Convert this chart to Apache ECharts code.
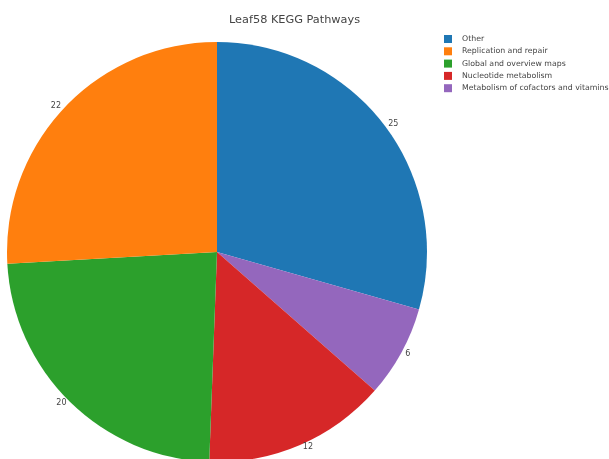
<!DOCTYPE html>
<html>
<head>
<meta charset="utf-8">
<script src="https://cdn.jsdelivr.net/npm/echarts@6/dist/echarts.min.js"></script>
<style>
  html, body { margin: 0; padding: 0; background: #fff; }
  #chart { width: 609px; height: 459px; }
</style>
</head>
<body>
<div id="chart"></div>
<script>
// Legend order of the pathway groups
const legendOrder = ['Other', 'Replication and repair', 'Global and overview maps', 'Nucleotide metabolism', 'Metabolism of cofactors and vitamins'];
// Slices, clockwise from 12 o'clock (sorted by value, largest first)
const categories = ['Other', 'Metabolism of cofactors and vitamins', 'Nucleotide metabolism', 'Global and overview maps', 'Replication and repair'];
const values = [25, 6, 12, 20, 22];
const colors = {
  'Other': '#1f77b4',
  'Replication and repair': '#ff7f0e',
  'Global and overview maps': '#2ca02c',
  'Nucleotide metabolism': '#d62728',
  'Metabolism of cofactors and vitamins': '#9467bd'
};

const chart = echarts.init(document.getElementById('chart'), null, { renderer: 'canvas' });
const font = '"DejaVu Sans", Verdana, sans-serif';

chart.setOption({
  animation: false,
  backgroundColor: '#ffffff',
  title: {
    text: 'Leaf58 KEGG Pathways',
    left: 224,
    top: 10,
    textStyle: { fontFamily: font, fontSize: 11.3, fontWeight: 'normal', color: '#444' }
  },
  legend: {
    orient: 'vertical',
    left: 444,
    top: 35,
    data: legendOrder,
    icon: 'rect',
    itemWidth: 8,
    itemHeight: 8,
    itemGap: 4.3,
    padding: 0,
    selectedMode: false,
    textStyle: { fontFamily: font, fontSize: 7.8, lineHeight: 8, color: '#444', padding: [0, 0, 0, 5] }
  },
  series: [{
    type: 'pie',
    center: [217, 252],
    radius: 210,
    startAngle: 90,
    clockwise: true,
    avoidLabelOverlap: false,
    itemStyle: { borderWidth: 0 },
    label: {
      show: true,
      position: 'outside',
      formatter: '{c}',
      fontFamily: font,
      fontSize: 8,
      color: '#444',
      distanceToLabelLine: 2
    },
    labelLine: { show: false, length: 2, length2: 0 },
    emphasis: { disabled: true },
    data: categories.map((name, i) => ({
      name: name,
      value: values[i],
      itemStyle: { color: colors[name] }
    }))
  }]
});
</script>
</body>
</html>
